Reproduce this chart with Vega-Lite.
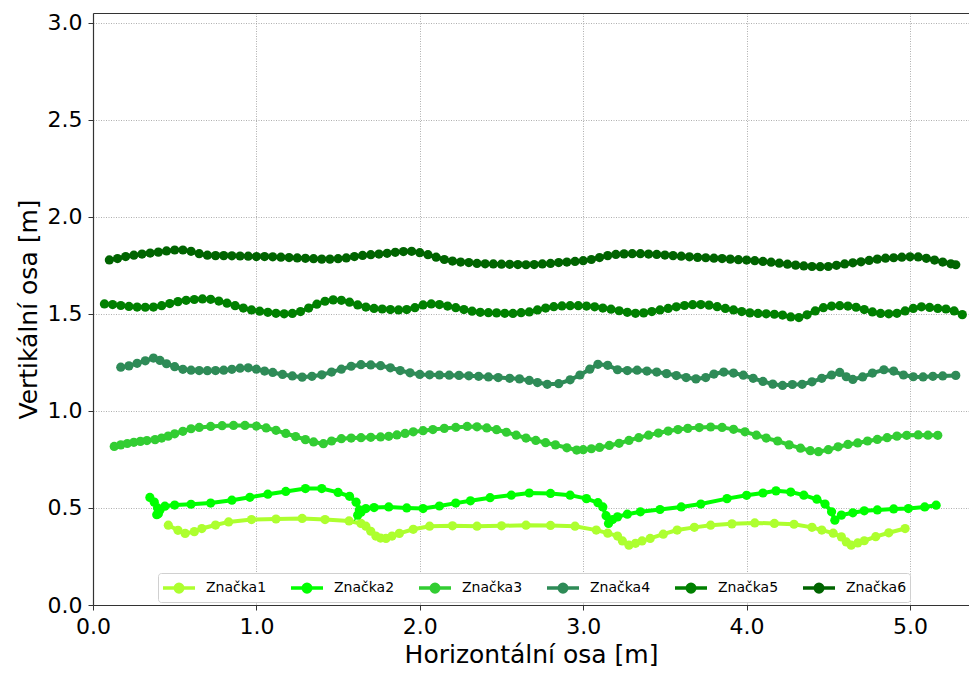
{
  "$schema": "https://vega.github.io/schema/vega-lite/v6.json",
  "width": 876,
  "height": 592,
  "autosize": {"type": "none"},
  "padding": {"left": 93, "top": 13, "right": 0, "bottom": 68},
  "config": {
    "font": "DejaVu Sans",
    "view": {"stroke": null},
    "axis": {
      "labelFont": "DejaVu Sans", "titleFont": "DejaVu Sans",
      "labelFontSize": 22, "titleFontSize": 25, "labelColor": "#000", "titleColor": "#000",
      "titleFontWeight": "normal", "domainColor": "#333", "domainWidth": 1.2,
      "tickColor": "#333", "tickSize": 5, "tickWidth": 1, "labelFlush": false,
      "gridColor": "#9a9a9a", "gridDash": [1, 1.5], "gridWidth": 0.8, "gridOpacity": 1
    }
  },
  "datasets": {
    "d": [
      {"s":"Značka1","x":0.461,"y":0.411},{"s":"Značka1","x":0.52,"y":0.385},{"s":"Značka1","x":0.564,"y":0.369},{"s":"Značka1","x":0.62,"y":0.378},{"s":"Značka1","x":0.666,"y":0.394},{"s":"Značka1","x":0.75,"y":0.412},{"s":"Značka1","x":0.83,"y":0.428},{"s":"Značka1","x":0.97,"y":0.44},{"s":"Značka1","x":1.12,"y":0.443},{"s":"Značka1","x":1.28,"y":0.446},{"s":"Značka1","x":1.42,"y":0.44},{"s":"Značka1","x":1.567,"y":0.433},{"s":"Značka1","x":1.64,"y":0.42},{"s":"Značka1","x":1.67,"y":0.406},{"s":"Značka1","x":1.7,"y":0.38},{"s":"Značka1","x":1.731,"y":0.355},{"s":"Značka1","x":1.76,"y":0.345},{"s":"Značka1","x":1.793,"y":0.343},{"s":"Značka1","x":1.83,"y":0.355},{"s":"Značka1","x":1.875,"y":0.369},{"s":"Značka1","x":1.96,"y":0.39},{"s":"Značka1","x":2.06,"y":0.406},{"s":"Značka1","x":2.2,"y":0.408},{"s":"Značka1","x":2.35,"y":0.406},{"s":"Značka1","x":2.5,"y":0.408},{"s":"Značka1","x":2.65,"y":0.411},{"s":"Značka1","x":2.8,"y":0.41},{"s":"Značka1","x":2.95,"y":0.406},{"s":"Značka1","x":3.08,"y":0.386},{"s":"Značka1","x":3.15,"y":0.37},{"s":"Značka1","x":3.21,"y":0.355},{"s":"Značka1","x":3.24,"y":0.33},{"s":"Značka1","x":3.28,"y":0.308},{"s":"Značka1","x":3.32,"y":0.318},{"s":"Značka1","x":3.36,"y":0.33},{"s":"Značka1","x":3.41,"y":0.343},{"s":"Značka1","x":3.49,"y":0.365},{"s":"Značka1","x":3.575,"y":0.386},{"s":"Značka1","x":3.68,"y":0.4},{"s":"Značka1","x":3.78,"y":0.411},{"s":"Značka1","x":3.91,"y":0.418},{"s":"Značka1","x":4.05,"y":0.423},{"s":"Značka1","x":4.17,"y":0.42},{"s":"Značka1","x":4.29,"y":0.416},{"s":"Značka1","x":4.4,"y":0.4},{"s":"Značka1","x":4.46,"y":0.386},{"s":"Značka1","x":4.53,"y":0.37},{"s":"Značka1","x":4.58,"y":0.351},{"s":"Značka1","x":4.61,"y":0.325},{"s":"Značka1","x":4.64,"y":0.308},{"s":"Značka1","x":4.68,"y":0.32},{"s":"Značka1","x":4.72,"y":0.331},{"s":"Značka1","x":4.79,"y":0.352},{"s":"Značka1","x":4.87,"y":0.372},{"s":"Značka1","x":4.97,"y":0.394},
      {"s":"Značka2","x":0.348,"y":0.554},{"s":"Značka2","x":0.375,"y":0.53},{"s":"Značka2","x":0.395,"y":0.5},{"s":"Značka2","x":0.4,"y":0.47},{"s":"Značka2","x":0.39,"y":0.465},{"s":"Značka2","x":0.41,"y":0.49},{"s":"Značka2","x":0.44,"y":0.509},{"s":"Značka2","x":0.5,"y":0.515},{"s":"Značka2","x":0.6,"y":0.519},{"s":"Značka2","x":0.72,"y":0.525},{"s":"Značka2","x":0.85,"y":0.54},{"s":"Značka2","x":0.96,"y":0.555},{"s":"Značka2","x":1.07,"y":0.571},{"s":"Značka2","x":1.18,"y":0.585},{"s":"Značka2","x":1.3,"y":0.6},{"s":"Značka2","x":1.4,"y":0.6},{"s":"Značka2","x":1.5,"y":0.58},{"s":"Značka2","x":1.57,"y":0.56},{"s":"Značka2","x":1.61,"y":0.53},{"s":"Značka2","x":1.63,"y":0.49},{"s":"Značka2","x":1.62,"y":0.463},{"s":"Značka2","x":1.64,"y":0.478},{"s":"Značka2","x":1.67,"y":0.497},{"s":"Značka2","x":1.72,"y":0.502},{"s":"Značka2","x":1.81,"y":0.505},{"s":"Značka2","x":1.92,"y":0.5},{"s":"Značka2","x":2.02,"y":0.497},{"s":"Značka2","x":2.12,"y":0.51},{"s":"Značka2","x":2.22,"y":0.525},{"s":"Značka2","x":2.31,"y":0.537},{"s":"Značka2","x":2.43,"y":0.553},{"s":"Značka2","x":2.56,"y":0.566},{"s":"Značka2","x":2.67,"y":0.577},{"s":"Značka2","x":2.8,"y":0.575},{"s":"Značka2","x":2.92,"y":0.566},{"s":"Značka2","x":3.02,"y":0.548},{"s":"Značka2","x":3.09,"y":0.527},{"s":"Značka2","x":3.12,"y":0.505},{"s":"Značka2","x":3.14,"y":0.46},{"s":"Značka2","x":3.155,"y":0.42},{"s":"Značka2","x":3.18,"y":0.44},{"s":"Značka2","x":3.21,"y":0.454},{"s":"Značka2","x":3.27,"y":0.468},{"s":"Značka2","x":3.35,"y":0.48},{"s":"Značka2","x":3.47,"y":0.492},{"s":"Značka2","x":3.6,"y":0.505},{"s":"Značka2","x":3.72,"y":0.52},{"s":"Značka2","x":3.88,"y":0.548},{"s":"Značka2","x":4.0,"y":0.565},{"s":"Značka2","x":4.1,"y":0.577},{"s":"Značka2","x":4.18,"y":0.588},{"s":"Značka2","x":4.27,"y":0.582},{"s":"Značka2","x":4.35,"y":0.566},{"s":"Značka2","x":4.43,"y":0.545},{"s":"Značka2","x":4.48,"y":0.52},{"s":"Značka2","x":4.52,"y":0.48},{"s":"Značka2","x":4.54,"y":0.437},{"s":"Značka2","x":4.58,"y":0.463},{"s":"Značka2","x":4.65,"y":0.475},{"s":"Značka2","x":4.72,"y":0.485},{"s":"Značka2","x":4.8,"y":0.49},{"s":"Značka2","x":4.9,"y":0.495},{"s":"Značka2","x":4.99,"y":0.497},{"s":"Značka2","x":5.09,"y":0.505},{"s":"Značka2","x":5.16,"y":0.514},
      {"s":"Značka3","x":0.13,"y":0.817},{"s":"Značka3","x":0.17,"y":0.825},{"s":"Značka3","x":0.21,"y":0.832},{"s":"Značka3","x":0.25,"y":0.838},{"s":"Značka3","x":0.29,"y":0.843},{"s":"Značka3","x":0.33,"y":0.847},{"s":"Značka3","x":0.38,"y":0.852},{"s":"Značka3","x":0.42,"y":0.86},{"s":"Značka3","x":0.46,"y":0.87},{"s":"Značka3","x":0.5,"y":0.882},{"s":"Značka3","x":0.55,"y":0.895},{"s":"Značka3","x":0.6,"y":0.908},{"s":"Značka3","x":0.65,"y":0.915},{"s":"Značka3","x":0.72,"y":0.92},{"s":"Značka3","x":0.79,"y":0.924},{"s":"Značka3","x":0.86,"y":0.925},{"s":"Značka3","x":0.93,"y":0.925},{"s":"Značka3","x":1.0,"y":0.922},{"s":"Značka3","x":1.06,"y":0.912},{"s":"Značka3","x":1.12,"y":0.9},{"s":"Značka3","x":1.18,"y":0.884},{"s":"Značka3","x":1.24,"y":0.868},{"s":"Značka3","x":1.3,"y":0.852},{"s":"Značka3","x":1.35,"y":0.84},{"s":"Značka3","x":1.41,"y":0.831},{"s":"Značka3","x":1.46,"y":0.845},{"s":"Značka3","x":1.52,"y":0.857},{"s":"Značka3","x":1.58,"y":0.86},{"s":"Značka3","x":1.64,"y":0.862},{"s":"Značka3","x":1.7,"y":0.864},{"s":"Značka3","x":1.76,"y":0.866},{"s":"Značka3","x":1.81,"y":0.869},{"s":"Značka3","x":1.86,"y":0.876},{"s":"Značka3","x":1.91,"y":0.884},{"s":"Značka3","x":1.96,"y":0.892},{"s":"Značka3","x":2.02,"y":0.898},{"s":"Značka3","x":2.08,"y":0.904},{"s":"Značka3","x":2.15,"y":0.91},{"s":"Značka3","x":2.22,"y":0.915},{"s":"Značka3","x":2.29,"y":0.92},{"s":"Značka3","x":2.35,"y":0.918},{"s":"Značka3","x":2.41,"y":0.912},{"s":"Značka3","x":2.47,"y":0.903},{"s":"Značka3","x":2.53,"y":0.89},{"s":"Značka3","x":2.59,"y":0.875},{"s":"Značka3","x":2.65,"y":0.86},{"s":"Značka3","x":2.71,"y":0.848},{"s":"Značka3","x":2.77,"y":0.836},{"s":"Značka3","x":2.83,"y":0.825},{"s":"Značka3","x":2.9,"y":0.81},{"s":"Značka3","x":2.96,"y":0.798},{"s":"Značka3","x":3.0,"y":0.8},{"s":"Značka3","x":3.05,"y":0.805},{"s":"Značka3","x":3.1,"y":0.812},{"s":"Značka3","x":3.16,"y":0.822},{"s":"Značka3","x":3.22,"y":0.833},{"s":"Značka3","x":3.28,"y":0.848},{"s":"Značka3","x":3.34,"y":0.862},{"s":"Značka3","x":3.4,"y":0.875},{"s":"Značka3","x":3.46,"y":0.886},{"s":"Značka3","x":3.52,"y":0.896},{"s":"Značka3","x":3.58,"y":0.904},{"s":"Značka3","x":3.64,"y":0.91},{"s":"Značka3","x":3.71,"y":0.914},{"s":"Značka3","x":3.78,"y":0.917},{"s":"Značka3","x":3.85,"y":0.915},{"s":"Značka3","x":3.92,"y":0.905},{"s":"Značka3","x":3.99,"y":0.892},{"s":"Značka3","x":4.06,"y":0.875},{"s":"Značka3","x":4.12,"y":0.86},{"s":"Značka3","x":4.19,"y":0.845},{"s":"Značka3","x":4.26,"y":0.825},{"s":"Značka3","x":4.33,"y":0.808},{"s":"Značka3","x":4.39,"y":0.795},{"s":"Značka3","x":4.44,"y":0.79},{"s":"Značka3","x":4.5,"y":0.8},{"s":"Značka3","x":4.56,"y":0.815},{"s":"Značka3","x":4.62,"y":0.827},{"s":"Značka3","x":4.68,"y":0.835},{"s":"Značka3","x":4.74,"y":0.845},{"s":"Značka3","x":4.8,"y":0.853},{"s":"Značka3","x":4.86,"y":0.862},{"s":"Značka3","x":4.92,"y":0.87},{"s":"Značka3","x":4.98,"y":0.874},{"s":"Značka3","x":5.05,"y":0.876},{"s":"Značka3","x":5.11,"y":0.875},{"s":"Značka3","x":5.17,"y":0.874},
      {"s":"Značka4","x":0.17,"y":1.225},{"s":"Značka4","x":0.22,"y":1.232},{"s":"Značka4","x":0.27,"y":1.245},{"s":"Značka4","x":0.32,"y":1.258},{"s":"Značka4","x":0.37,"y":1.272},{"s":"Značka4","x":0.41,"y":1.26},{"s":"Značka4","x":0.45,"y":1.243},{"s":"Značka4","x":0.5,"y":1.228},{"s":"Značka4","x":0.55,"y":1.214},{"s":"Značka4","x":0.6,"y":1.21},{"s":"Značka4","x":0.65,"y":1.208},{"s":"Značka4","x":0.7,"y":1.207},{"s":"Značka4","x":0.75,"y":1.208},{"s":"Značka4","x":0.8,"y":1.21},{"s":"Značka4","x":0.85,"y":1.214},{"s":"Značka4","x":0.9,"y":1.22},{"s":"Značka4","x":0.95,"y":1.222},{"s":"Značka4","x":1.0,"y":1.215},{"s":"Značka4","x":1.05,"y":1.205},{"s":"Značka4","x":1.1,"y":1.198},{"s":"Značka4","x":1.16,"y":1.188},{"s":"Značka4","x":1.22,"y":1.18},{"s":"Značka4","x":1.28,"y":1.174},{"s":"Značka4","x":1.34,"y":1.178},{"s":"Značka4","x":1.4,"y":1.186},{"s":"Značka4","x":1.46,"y":1.2},{"s":"Značka4","x":1.52,"y":1.215},{"s":"Značka4","x":1.58,"y":1.23},{"s":"Značka4","x":1.64,"y":1.238},{"s":"Značka4","x":1.7,"y":1.237},{"s":"Značka4","x":1.76,"y":1.233},{"s":"Značka4","x":1.82,"y":1.222},{"s":"Značka4","x":1.88,"y":1.208},{"s":"Značka4","x":1.94,"y":1.196},{"s":"Značka4","x":2.0,"y":1.188},{"s":"Značka4","x":2.06,"y":1.186},{"s":"Značka4","x":2.12,"y":1.185},{"s":"Značka4","x":2.18,"y":1.184},{"s":"Značka4","x":2.24,"y":1.183},{"s":"Značka4","x":2.3,"y":1.181},{"s":"Značka4","x":2.36,"y":1.178},{"s":"Značka4","x":2.42,"y":1.175},{"s":"Značka4","x":2.48,"y":1.172},{"s":"Značka4","x":2.55,"y":1.168},{"s":"Značka4","x":2.61,"y":1.165},{"s":"Značka4","x":2.67,"y":1.157},{"s":"Značka4","x":2.72,"y":1.146},{"s":"Značka4","x":2.78,"y":1.137},{"s":"Značka4","x":2.85,"y":1.14},{"s":"Značka4","x":2.92,"y":1.16},{"s":"Značka4","x":2.98,"y":1.185},{"s":"Značka4","x":3.04,"y":1.215},{"s":"Značka4","x":3.09,"y":1.24},{"s":"Značka4","x":3.15,"y":1.235},{"s":"Značka4","x":3.21,"y":1.212},{"s":"Značka4","x":3.27,"y":1.208},{"s":"Značka4","x":3.33,"y":1.21},{"s":"Značka4","x":3.39,"y":1.205},{"s":"Značka4","x":3.45,"y":1.2},{"s":"Značka4","x":3.51,"y":1.192},{"s":"Značka4","x":3.57,"y":1.182},{"s":"Značka4","x":3.63,"y":1.172},{"s":"Značka4","x":3.69,"y":1.165},{"s":"Značka4","x":3.75,"y":1.172},{"s":"Značka4","x":3.8,"y":1.19},{"s":"Značka4","x":3.86,"y":1.2},{"s":"Značka4","x":3.92,"y":1.195},{"s":"Značka4","x":3.98,"y":1.184},{"s":"Značka4","x":4.04,"y":1.168},{"s":"Značka4","x":4.1,"y":1.152},{"s":"Značka4","x":4.16,"y":1.138},{"s":"Značka4","x":4.22,"y":1.131},{"s":"Značka4","x":4.28,"y":1.136},{"s":"Značka4","x":4.34,"y":1.137},{"s":"Značka4","x":4.4,"y":1.15},{"s":"Značka4","x":4.46,"y":1.168},{"s":"Značka4","x":4.52,"y":1.185},{"s":"Značka4","x":4.57,"y":1.198},{"s":"Značka4","x":4.61,"y":1.176},{"s":"Značka4","x":4.65,"y":1.162},{"s":"Značka4","x":4.71,"y":1.175},{"s":"Značka4","x":4.77,"y":1.195},{"s":"Značka4","x":4.84,"y":1.212},{"s":"Značka4","x":4.9,"y":1.205},{"s":"Značka4","x":4.96,"y":1.185},{"s":"Značka4","x":5.02,"y":1.176},{"s":"Značka4","x":5.08,"y":1.175},{"s":"Značka4","x":5.14,"y":1.178},{"s":"Značka4","x":5.2,"y":1.18},{"s":"Značka4","x":5.28,"y":1.183},
      {"s":"Značka5","x":0.07,"y":1.551},{"s":"Značka5","x":0.12,"y":1.548},{"s":"Značka5","x":0.17,"y":1.543},{"s":"Značka5","x":0.22,"y":1.538},{"s":"Značka5","x":0.27,"y":1.535},{"s":"Značka5","x":0.32,"y":1.534},{"s":"Značka5","x":0.37,"y":1.535},{"s":"Značka5","x":0.42,"y":1.542},{"s":"Značka5","x":0.47,"y":1.553},{"s":"Značka5","x":0.52,"y":1.563},{"s":"Značka5","x":0.57,"y":1.57},{"s":"Značka5","x":0.62,"y":1.574},{"s":"Značka5","x":0.67,"y":1.577},{"s":"Značka5","x":0.72,"y":1.575},{"s":"Značka5","x":0.77,"y":1.566},{"s":"Značka5","x":0.82,"y":1.555},{"s":"Značka5","x":0.87,"y":1.542},{"s":"Značka5","x":0.92,"y":1.53},{"s":"Značka5","x":0.97,"y":1.52},{"s":"Značka5","x":1.02,"y":1.514},{"s":"Značka5","x":1.07,"y":1.508},{"s":"Značka5","x":1.12,"y":1.503},{"s":"Značka5","x":1.17,"y":1.5},{"s":"Značka5","x":1.22,"y":1.502},{"s":"Značka5","x":1.27,"y":1.512},{"s":"Značka5","x":1.32,"y":1.53},{"s":"Značka5","x":1.37,"y":1.55},{"s":"Značka5","x":1.42,"y":1.565},{"s":"Značka5","x":1.47,"y":1.572},{"s":"Značka5","x":1.52,"y":1.57},{"s":"Značka5","x":1.57,"y":1.56},{"s":"Značka5","x":1.62,"y":1.546},{"s":"Značka5","x":1.67,"y":1.535},{"s":"Značka5","x":1.72,"y":1.528},{"s":"Značka5","x":1.77,"y":1.525},{"s":"Značka5","x":1.82,"y":1.522},{"s":"Značka5","x":1.87,"y":1.52},{"s":"Značka5","x":1.92,"y":1.522},{"s":"Značka5","x":1.97,"y":1.532},{"s":"Značka5","x":2.02,"y":1.546},{"s":"Značka5","x":2.07,"y":1.551},{"s":"Značka5","x":2.12,"y":1.548},{"s":"Značka5","x":2.17,"y":1.54},{"s":"Značka5","x":2.22,"y":1.532},{"s":"Značka5","x":2.27,"y":1.522},{"s":"Značka5","x":2.32,"y":1.514},{"s":"Značka5","x":2.37,"y":1.508},{"s":"Značka5","x":2.42,"y":1.506},{"s":"Značka5","x":2.47,"y":1.505},{"s":"Značka5","x":2.52,"y":1.503},{"s":"Značka5","x":2.57,"y":1.502},{"s":"Značka5","x":2.62,"y":1.506},{"s":"Značka5","x":2.67,"y":1.51},{"s":"Značka5","x":2.72,"y":1.52},{"s":"Značka5","x":2.77,"y":1.53},{"s":"Značka5","x":2.82,"y":1.537},{"s":"Značka5","x":2.87,"y":1.541},{"s":"Značka5","x":2.92,"y":1.542},{"s":"Značka5","x":2.97,"y":1.542},{"s":"Značka5","x":3.02,"y":1.54},{"s":"Značka5","x":3.07,"y":1.536},{"s":"Značka5","x":3.12,"y":1.53},{"s":"Značka5","x":3.17,"y":1.524},{"s":"Značka5","x":3.22,"y":1.516},{"s":"Značka5","x":3.27,"y":1.508},{"s":"Značka5","x":3.32,"y":1.503},{"s":"Značka5","x":3.37,"y":1.505},{"s":"Značka5","x":3.42,"y":1.512},{"s":"Značka5","x":3.47,"y":1.52},{"s":"Značka5","x":3.52,"y":1.528},{"s":"Značka5","x":3.57,"y":1.536},{"s":"Značka5","x":3.62,"y":1.543},{"s":"Značka5","x":3.67,"y":1.547},{"s":"Značka5","x":3.72,"y":1.548},{"s":"Značka5","x":3.77,"y":1.545},{"s":"Značka5","x":3.82,"y":1.537},{"s":"Značka5","x":3.87,"y":1.528},{"s":"Značka5","x":3.92,"y":1.52},{"s":"Značka5","x":3.97,"y":1.512},{"s":"Značka5","x":4.02,"y":1.505},{"s":"Značka5","x":4.07,"y":1.502},{"s":"Značka5","x":4.12,"y":1.5},{"s":"Značka5","x":4.17,"y":1.498},{"s":"Značka5","x":4.22,"y":1.494},{"s":"Značka5","x":4.27,"y":1.484},{"s":"Značka5","x":4.32,"y":1.481},{"s":"Značka5","x":4.37,"y":1.495},{"s":"Značka5","x":4.42,"y":1.515},{"s":"Značka5","x":4.47,"y":1.532},{"s":"Značka5","x":4.52,"y":1.54},{"s":"Značka5","x":4.57,"y":1.542},{"s":"Značka5","x":4.62,"y":1.54},{"s":"Značka5","x":4.67,"y":1.534},{"s":"Značka5","x":4.72,"y":1.522},{"s":"Značka5","x":4.77,"y":1.51},{"s":"Značka5","x":4.82,"y":1.502},{"s":"Značka5","x":4.87,"y":1.5},{"s":"Značka5","x":4.92,"y":1.503},{"s":"Značka5","x":4.97,"y":1.515},{"s":"Značka5","x":5.02,"y":1.528},{"s":"Značka5","x":5.07,"y":1.536},{"s":"Značka5","x":5.12,"y":1.533},{"s":"Značka5","x":5.17,"y":1.528},{"s":"Značka5","x":5.22,"y":1.525},{"s":"Značka5","x":5.27,"y":1.515},{"s":"Značka5","x":5.32,"y":1.496},
      {"s":"Značka6","x":0.1,"y":1.778},{"s":"Značka6","x":0.15,"y":1.785},{"s":"Značka6","x":0.2,"y":1.795},{"s":"Značka6","x":0.25,"y":1.802},{"s":"Značka6","x":0.3,"y":1.808},{"s":"Značka6","x":0.35,"y":1.813},{"s":"Značka6","x":0.4,"y":1.818},{"s":"Značka6","x":0.45,"y":1.824},{"s":"Značka6","x":0.5,"y":1.829},{"s":"Značka6","x":0.55,"y":1.829},{"s":"Značka6","x":0.6,"y":1.822},{"s":"Značka6","x":0.65,"y":1.81},{"s":"Značka6","x":0.7,"y":1.802},{"s":"Značka6","x":0.75,"y":1.8},{"s":"Značka6","x":0.8,"y":1.8},{"s":"Značka6","x":0.85,"y":1.799},{"s":"Značka6","x":0.9,"y":1.798},{"s":"Značka6","x":0.95,"y":1.797},{"s":"Značka6","x":1.0,"y":1.795},{"s":"Značka6","x":1.05,"y":1.795},{"s":"Značka6","x":1.1,"y":1.794},{"s":"Značka6","x":1.15,"y":1.792},{"s":"Značka6","x":1.2,"y":1.79},{"s":"Značka6","x":1.25,"y":1.788},{"s":"Značka6","x":1.3,"y":1.786},{"s":"Značka6","x":1.35,"y":1.784},{"s":"Značka6","x":1.4,"y":1.782},{"s":"Značka6","x":1.45,"y":1.782},{"s":"Značka6","x":1.5,"y":1.784},{"s":"Značka6","x":1.55,"y":1.788},{"s":"Značka6","x":1.6,"y":1.795},{"s":"Značka6","x":1.65,"y":1.801},{"s":"Značka6","x":1.7,"y":1.805},{"s":"Značka6","x":1.75,"y":1.808},{"s":"Značka6","x":1.8,"y":1.812},{"s":"Značka6","x":1.85,"y":1.817},{"s":"Značka6","x":1.9,"y":1.821},{"s":"Značka6","x":1.95,"y":1.822},{"s":"Značka6","x":2.0,"y":1.815},{"s":"Značka6","x":2.05,"y":1.805},{"s":"Značka6","x":2.1,"y":1.792},{"s":"Značka6","x":2.15,"y":1.78},{"s":"Značka6","x":2.2,"y":1.772},{"s":"Značka6","x":2.25,"y":1.767},{"s":"Značka6","x":2.3,"y":1.764},{"s":"Značka6","x":2.35,"y":1.76},{"s":"Značka6","x":2.4,"y":1.758},{"s":"Značka6","x":2.45,"y":1.757},{"s":"Značka6","x":2.5,"y":1.756},{"s":"Značka6","x":2.55,"y":1.755},{"s":"Značka6","x":2.6,"y":1.754},{"s":"Značka6","x":2.65,"y":1.753},{"s":"Značka6","x":2.7,"y":1.754},{"s":"Značka6","x":2.75,"y":1.757},{"s":"Značka6","x":2.8,"y":1.76},{"s":"Značka6","x":2.85,"y":1.764},{"s":"Značka6","x":2.9,"y":1.767},{"s":"Značka6","x":2.95,"y":1.77},{"s":"Značka6","x":3.0,"y":1.774},{"s":"Značka6","x":3.05,"y":1.78},{"s":"Značka6","x":3.1,"y":1.79},{"s":"Značka6","x":3.15,"y":1.8},{"s":"Značka6","x":3.2,"y":1.806},{"s":"Značka6","x":3.25,"y":1.809},{"s":"Značka6","x":3.3,"y":1.81},{"s":"Značka6","x":3.35,"y":1.81},{"s":"Značka6","x":3.4,"y":1.808},{"s":"Značka6","x":3.45,"y":1.806},{"s":"Značka6","x":3.5,"y":1.803},{"s":"Značka6","x":3.55,"y":1.8},{"s":"Značka6","x":3.6,"y":1.797},{"s":"Značka6","x":3.65,"y":1.794},{"s":"Značka6","x":3.7,"y":1.791},{"s":"Značka6","x":3.75,"y":1.789},{"s":"Značka6","x":3.8,"y":1.787},{"s":"Značka6","x":3.85,"y":1.785},{"s":"Značka6","x":3.9,"y":1.782},{"s":"Značka6","x":3.95,"y":1.779},{"s":"Značka6","x":4.0,"y":1.777},{"s":"Značka6","x":4.05,"y":1.774},{"s":"Značka6","x":4.1,"y":1.77},{"s":"Značka6","x":4.15,"y":1.766},{"s":"Značka6","x":4.2,"y":1.761},{"s":"Značka6","x":4.25,"y":1.756},{"s":"Značka6","x":4.3,"y":1.751},{"s":"Značka6","x":4.35,"y":1.747},{"s":"Značka6","x":4.4,"y":1.744},{"s":"Značka6","x":4.45,"y":1.743},{"s":"Značka6","x":4.5,"y":1.744},{"s":"Značka6","x":4.55,"y":1.75},{"s":"Značka6","x":4.6,"y":1.757},{"s":"Značka6","x":4.65,"y":1.763},{"s":"Značka6","x":4.7,"y":1.768},{"s":"Značka6","x":4.75,"y":1.775},{"s":"Značka6","x":4.8,"y":1.782},{"s":"Značka6","x":4.85,"y":1.787},{"s":"Značka6","x":4.9,"y":1.789},{"s":"Značka6","x":4.95,"y":1.792},{"s":"Značka6","x":5.0,"y":1.794},{"s":"Značka6","x":5.05,"y":1.793},{"s":"Značka6","x":5.1,"y":1.786},{"s":"Značka6","x":5.15,"y":1.777},{"s":"Značka6","x":5.2,"y":1.767},{"s":"Značka6","x":5.25,"y":1.758},{"s":"Značka6","x":5.28,"y":1.753}
    ]
  },
  "data": {"name": "d"},
  "resolve": {"axis": {"x": "independent"}},
  "layer": [
    {
      "mark": {"type": "line", "strokeWidth": 4, "point": {"filled": true, "size": 85, "opacity": 1}},
      "encoding": {
        "x": {"field": "x", "type": "quantitative", "scale": {"domain": [0, 5.361], "nice": false, "zero": false},
              "axis": {"values": [0, 1, 2, 3, 4, 5], "format": ".1f", "title": "Horizontální osa [m]", "labelPadding": 6, "titlePadding": 5}},
        "y": {"field": "y", "type": "quantitative", "scale": {"domain": [0, 3.05], "nice": false, "zero": false},
              "axis": {"values": [0, 0.5, 1, 1.5, 2, 2.5, 3], "format": ".1f", "title": "Vertikální osa [m]", "labelPadding": 6, "titlePadding": 6}},
        "color": {"field": "s", "type": "nominal",
          "scale": {"domain": ["Značka1","Značka2","Značka3","Značka4","Značka5","Značka6"], "range": ["#ADFF2F","#00FF00","#32CD32","#2E8B57","#008000","#006400"]},
          "legend": {"title": null, "orient": "none", "legendX": 65, "legendY": 560, "direction": "horizontal", "columns": 6,
            "symbolType": "M-1,0L2.2,0M0.22,0A0.38,0.38,0,1,1,0.98,0A0.38,0.38,0,1,1,0.22,0Z",
            "symbolSize": 400, "symbolStrokeWidth": 3.5, "symbolFillColor": "transparent",
            "labelFont": "DejaVu Sans", "labelFontSize": 14, "labelColor": "#000", "labelOffset": 21, "columnPadding": 17,
            "padding": 3, "strokeColor": "#d0d0d0", "fillColor": "white", "cornerRadius": 3, "labelLimit": 100}},
        "detail": {"field": "s"},
        "order": {"value": null}
      }
    },
    {
      "mark": {"type": "point", "opacity": 0},
      "encoding": {
        "x": {"field": "x", "type": "quantitative", "axis": {"orient": "top", "labels": false, "ticks": false, "grid": false, "title": null}},
        "y": {"field": "y", "type": "quantitative"}
      }
    }
  ]
}
